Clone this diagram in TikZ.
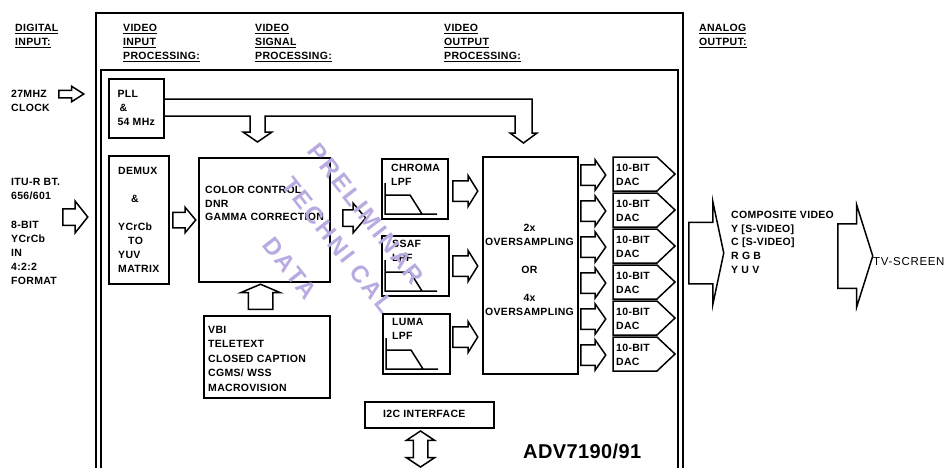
\documentclass[tikz,border=0pt]{standalone}
\usepackage{fontspec}
\setmainfont{Liberation Sans}
\newfontfamily\diafont{Liberation Sans}[LetterSpace=3]
\newfontfamily\advfont{Liberation Sans}[LetterSpace=2]
\newfontfamily\wmfont{Liberation Sans}[LetterSpace=10]
\newfontfamily\tvfont{Liberation Sans}[LetterSpace=6]
\newcommand{\lblfont}{\diafont\bfseries\fontsize{10.5}{14}\selectfont}
\usetikzlibrary{shapes.arrows,calc}
\definecolor{wmpurple}{RGB}{185,170,225}

\begin{document}
\begin{tikzpicture}[x=1pt,y=-1pt,
  box/.style={draw,line width=1.5pt,inner sep=0pt,anchor=north west,align=left,font=\lblfont},
  lbl/.style={font=\lblfont,inner sep=0pt,align=left,anchor=north west},
  blkarr/.style n args={4}{single arrow,draw,line width=1.5pt,inner xsep=0pt,inner ysep=#2,anchor=tail,
    minimum height=#1,single arrow head extend=#3,single arrow tip angle=#4},
  wm/.style={font=\wmfont\bfseries\fontsize{24}{28}\selectfont,text=wmpurple,rotate=-52,inner sep=0pt}]
  \useasboundingbox (0,0) rectangle (944,467);

  % frames
  \draw[line width=2.4pt] (96,470) -- (96,13) -- (683,13) -- (683,470);
  \draw[line width=1.6pt] (101,470) -- (101,70) -- (678,70) -- (678,470);

  % column headings
  \node[lbl] (hdin) at (15,24) {\underline{DIGITAL}\\\underline{INPUT:}};
  \node[lbl] (hdvin) at (123,24) {\underline{VIDEO}\\\underline{INPUT}\\\underline{PROCESSING:}};
  \node[lbl] (hdsig) at (255,24) {\underline{VIDEO}\\\underline{SIGNAL}\\\underline{PROCESSING:}};
  \node[lbl] (hdout) at (444,24) {\underline{VIDEO}\\\underline{OUTPUT}\\\underline{PROCESSING:}};
  \node[lbl] (hdana) at (699,24) {\underline{ANALOG}\\\underline{OUTPUT:}};

  % inputs
  \node[lbl] (clk) at (11,90) {27MHZ\\CLOCK};
  \node[blkarr={25}{3pt}{4pt}{65}] (clkarr) at (58,94) {};
  \node[lbl,font=\diafont\bfseries\fontsize{10.5}{14.2}\selectfont] (itu) at (11,178)
    {ITU-R BT.\\656/601\\[14.2pt]8-BIT\\YCrCb\\IN\\4:2:2\\FORMAT};
  \node[blkarr={25}{7.5pt}{7.5pt}{103}] (inarr) at (62,217) {};

  % input processing
  \node[box,minimum width=55,minimum height=59] (pll) at (108,78) {PLL\\\hspace*{2pt}\&\\54 MHz};
  \node[box,minimum width=60,minimum height=128] (demux) at (108,155)
    {DEMUX\\[14pt]\hspace*{13pt}\&\\[14pt]YCrCb\\\hspace*{10pt}TO\\YUV\\MATRIX};
  \node[blkarr={23}{7pt}{5pt}{100}] (dmxarr) at (172,220) {};

  % clock feed to colour control and oversampling
  \draw[line width=1.5pt] (pll.east |- 0,99) -- (532,99) -- (532,133) -- (537,133) -- (523.5,143)
    -- (510,133) -- (515,133) -- (515,116) -- (265,116) -- (265,132) -- (272,132) -- (257.5,142)
    -- (243,132) -- (250,132) -- (250,116) -- (pll.east |- 0,116);

  % signal processing
  \node[box,minimum width=131,minimum height=124] (cc) at (198,157) {};
  \node[lbl,font=\diafont\bfseries\fontsize{10.5}{13.5}\selectfont] (cctxt) at (205,186)
    {COLOR CONTROL\\DNR\\GAMMA CORRECTION};
  \node[blkarr={23}{7.5pt}{6.5pt}{99}] (ccarr) at (342,218) {};
  \node[box,minimum width=126,minimum height=82] (vbi) at (203,315) {};
  \node[lbl,font=\diafont\bfseries\fontsize{10.5}{14.5}\selectfont] (vbitxt) at (208,326)
    {VBI\\TELETEXT\\CLOSED CAPTION\\CGMS/ WSS\\MACROVISION};
  \node[blkarr={25}{11.5pt}{7.5pt}{134},rotate=90] (vbiarr) at (260.5,310) {};

  % filters
  \node[box,minimum width=66,minimum height=60] (chroma) at (381,158) {};
  \node[box,minimum width=67,minimum height=60] (ssaf) at (381,235) {};
  \node[box,minimum width=67,minimum height=60] (luma) at (382,313) {};
  \foreach \f in {chroma,ssaf,luma}
    \draw[line width=1.5pt] ($(\f.north west)+(4,25)$) -- ($(\f.north west)+(4,56)$) -- ($(\f.north west)+(56,56)$)
      ($(\f.north west)+(4,37)$) -- ($(\f.north west)+(29,37)$) -- ($(\f.north west)+(41,56)$);
  \node[lbl] (chromatxt) at (391,164) {CHROMA\\LPF};
  \node[lbl] (ssaftxt) at (392,240) {SSAF\\LPF};
  \node[lbl] (lumatxt) at (392,318) {LUMA\\LPF};
  \node[blkarr={25}{9.5pt}{5pt}{116}] (chrarr) at (452,191) {};
  \node[blkarr={25}{9.5pt}{5pt}{116}] (ssfarr) at (452,266) {};
  \node[blkarr={25}{9.5pt}{5pt}{116}] (lumarr) at (452,337) {};

  % output processing
  \node[box,minimum width=95,minimum height=217] (over) at (482,156) {};
  \node[lbl,align=center,anchor=center] (overtxt) at (529.5,270)
    {2x\\OVERSAMPLING\\[14pt]OR\\[14pt]4x\\OVERSAMPLING};
  \foreach \i in {0,...,5} {
    \node[blkarr={25}{9.5pt}{5pt}{110}] (dacarr\i) at (580,{175+36*\i}) {};
    \draw[line width=1.5pt] (613,{157+36*\i}) -- (657,{157+36*\i}) -- (675,{174+36*\i})
      -- (657,{191+36*\i}) -- (613,{191+36*\i}) -- cycle;
    \node[lbl] (dac\i) at (616,{164+36*\i}) {10-BIT\\DAC};
  }

  % bus interface
  \node[box,minimum width=129,minimum height=26] (i2c) at (364,401) {};
  \node[lbl,anchor=west] (i2ctxt) at (383,414) {I2C INTERFACE};
  \node[double arrow,draw,line width=1.5pt,inner xsep=0pt,inner ysep=6.5pt,rotate=90,minimum height=36pt,
    double arrow head extend=7pt,double arrow tip angle=113] (i2carr) at (420.5,449) {};
  \node[font=\advfont\bfseries\fontsize{20}{24}\selectfont,anchor=west,inner sep=0pt] (chip) at (523,451) {ADV7190/91};

  % analog outputs
  \node[blkarr={35}{30pt}{21pt}{156}] (outarr) at (688,253) {};
  \node[lbl,font=\diafont\bfseries\fontsize{10.5}{13.7}\selectfont] (outtxt) at (731,211)
    {COMPOSITE VIDEO\\Y [S-VIDEO]\\C [S-VIDEO]\\R G B\\Y U V};
  \node[blkarr={35}{31.5pt}{19pt}{145}] (tvarr) at (837,256) {};
  \node[font=\tvfont\fontsize{11.5}{14}\selectfont,anchor=west,inner sep=0pt] (tv) at (873,262) {TV-SCREEN};

  % watermark
  \node[wm] (wm1) at (366,214) {PRELIMINAR};
  \node[wm] (wm2) at (338,245) {TECHNI CAL};
  \node[wm] (wm3) at (290,268) {DATA};
\end{tikzpicture}
\end{document}
